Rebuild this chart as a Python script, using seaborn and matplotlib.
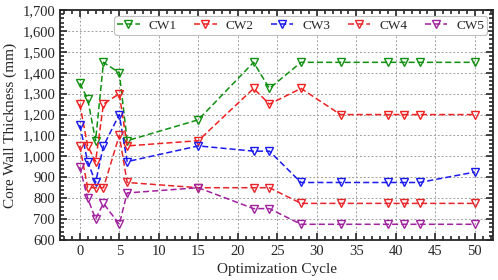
import matplotlib
matplotlib.use("Agg")
import matplotlib.pyplot as plt
import matplotlib.ticker as mticker
import pandas as pd
import seaborn as sns

cycles = [0, 1, 2, 3, 5, 6, 15, 22, 24, 28, 33, 39, 41, 43, 50]
cw1 = [1350, 1275, 1075, 1450, 1400, 1075, 1175, 1450, 1325, 1450, 1450, 1450, 1450, 1450, 1450]
cw2 = [1250, 1050, 975, 1250, 1300, 1050, 1075, 1325, 1250, 1325, 1200, 1200, 1200, 1200, 1200]
cw3 = [1150, 975, 875, 1050, 1200, 975, 1050, 1025, 1025, 875, 875, 875, 875, 875, 925]
cw4 = [1050, 850, 850, 850, 1100, 875, 850, 850, 850, 775, 775, 775, 775, 775, 775]
cw5 = [950, 800, 700, 775, 675, 825, 850, 750, 750, 675, 675, 675, 675, 675, 675]
walls = ["CW1", "CW2", "CW3", "CW4", "CW5"]
colors = ["#109010", "#f02020", "#1a1aee", "#e8252a", "#a0209f"]


def build():
    rows = []
    for name, vals in zip(walls, [cw1, cw2, cw3, cw4, cw5]):
        for c, v in zip(cycles, vals):
            rows.append({"cycle": c, "thickness": v, "wall": name})
    return pd.DataFrame(rows)


def main(df):
    sns.set_style("ticks")
    plt.rcParams["font.family"] = ["Liberation Serif", "DejaVu Serif"]
    plt.rcParams["xtick.direction"] = "in"
    plt.rcParams["ytick.direction"] = "in"

    fig = plt.figure(figsize=(4.98, 2.8), dpi=100)
    ax = fig.add_axes([0.1205, 0.143, 0.8695, 0.821])

    sns.lineplot(
        data=df, x="cycle", y="thickness", hue="wall", hue_order=walls,
        palette=colors, marker="v", markersize=5.5, linewidth=1.1,
        markerfacecolor="none", markeredgewidth=1.0, legend=False, ax=ax,
    )
    for line in ax.get_lines():
        line.set_markeredgecolor(line.get_color())
        line.set_markerfacecolor("none")
        line.set_dashes((4, 2))

    ax.set_xlim(-2.5, 52.3)
    ax.set_ylim(600, 1700)
    ax.xaxis.set_major_locator(mticker.MultipleLocator(5))
    ax.xaxis.set_minor_locator(mticker.MultipleLocator(1))
    ax.yaxis.set_major_locator(mticker.MultipleLocator(100))
    ax.yaxis.set_minor_locator(mticker.MultipleLocator(20))
    ax.yaxis.set_major_formatter(mticker.StrMethodFormatter("{x:,.0f}"))
    ax.tick_params(which="both", top=True, right=True, labelsize=10.5, width=1.2)
    ax.tick_params(which="major", length=5)
    ax.tick_params(which="minor", length=3)
    for s in ax.spines.values():
        s.set_linewidth(1.3)
    ax.grid(True, which="major", color="#a0a0a0", linestyle=(0, (2, 2)), linewidth=0.7)

    ax.set_xlabel("Optimization Cycle", fontsize=11)
    ax.set_ylabel("Core Wall Thickness (mm)", fontsize=11)

    leg = ax.legend(ax.get_lines(), walls, ncol=5, loc="upper right",
                    bbox_to_anchor=(0.993, 0.985), fontsize=9.5, handlelength=1.7,
                    columnspacing=1.3, handletextpad=0.7, borderpad=0.25,
                    borderaxespad=0.2, fancybox=True, edgecolor="#c0c0c0",
                    framealpha=1)
    leg.get_frame().set_linewidth(0.8)

    plt.savefig("out.png", dpi=100)


if __name__ == "__main__":
    main(build())
